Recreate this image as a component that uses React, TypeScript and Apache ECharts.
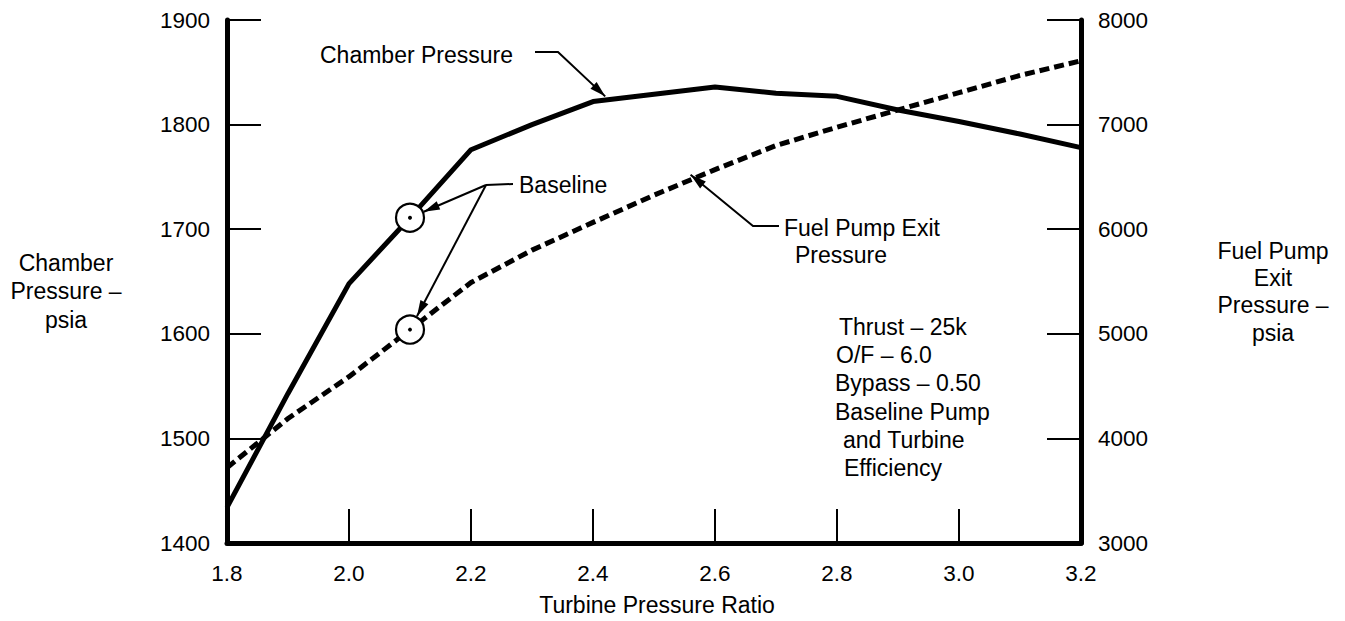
import React, { useEffect, useRef } from "react";
import * as echarts from "echarts";

// ---- data ----
const turbinePressureRatio = [1.8, 1.9, 2.0, 2.1, 2.2, 2.3, 2.4, 2.5, 2.6, 2.7, 2.8, 2.9, 3.0, 3.1, 3.2];
const chamberPressure = [1434, 1543, 1648, 1711, 1776, 1800, 1822, 1829, 1836, 1830, 1827, 1814, 1803, 1791, 1778];
const fuelPumpExitPressure = [3720, 4190, 4590, 5040, 5490, 5800, 6065, 6325, 6570, 6800, 6975, 7140, 7305, 7470, 7610];
const baselineRatio = 2.1;

const xRange = { min: 1.8, max: 3.2, interval: 0.2 };
const chamberRange = { min: 1400, max: 1900, interval: 100 };
const fuelRange = { min: 3000, max: 8000, interval: 1000 };

const leftAxisName = ["Chamber", "Pressure \u2013", "psia"];
const rightAxisName = ["Fuel Pump", "Exit", "Pressure \u2013", "psia"];
const conditionLines: [string, number][] = [
  ["Thrust \u2013 25k", 4],
  ["O/F \u2013 6.0", 1],
  ["Bypass \u2013 0.50", 0],
  ["Baseline Pump", 0],
  ["and Turbine", 8],
  ["Efficiency", 9],
];

const FONT = '"Liberation Sans", Arial, Helvetica, sans-serif';
const TXT = 23;

export default function App() {
  const ref = useRef<HTMLDivElement>(null);

  useEffect(() => {
    const chart = echarts.init(ref.current!, null, { renderer: "svg" });
    const chamberData = turbinePressureRatio.map((x, i) => [x, chamberPressure[i]]);
    const fuelData = turbinePressureRatio.map((x, i) => [x, fuelPumpExitPressure[i]]);
    const bi = turbinePressureRatio.indexOf(baselineRatio);
    const chamberBase = [baselineRatio, chamberPressure[bi]];
    const fuelBase = [baselineRatio, fuelPumpExitPressure[bi]];

    const axisLabel = {
      color: "#000",
      fontSize: 22.5,
      fontFamily: FONT,
      margin: 17,
      formatter: (v: number) => String(v),
    };
    const axisLine = { show: true, lineStyle: { color: "#000", width: 5 } };
    const axisTick = { show: true, inside: true, length: 34, lineStyle: { color: "#000", width: 2 } };

    chart.setOption({
      animation: false,
      backgroundColor: "#fff",
      grid: { left: 227, right: 264, top: 20, bottom: 78 },
      xAxis: {
        type: "value",
        min: xRange.min,
        max: xRange.max,
        interval: xRange.interval,
        axisLine,
        axisTick,
        splitLine: { show: false },
        axisLabel: { ...axisLabel, margin: 19, formatter: (v: number) => v.toFixed(1) },
      },
      yAxis: [
        {
          type: "value",
          position: "left",
          min: chamberRange.min,
          max: chamberRange.max,
          interval: chamberRange.interval,
          axisLine,
          axisTick,
          splitLine: { show: false },
          axisLabel,
        },
        {
          type: "value",
          position: "right",
          min: fuelRange.min,
          max: fuelRange.max,
          interval: fuelRange.interval,
          axisLine,
          axisTick,
          splitLine: { show: false },
          axisLabel,
        },
      ],
      series: [
        {
          name: "Chamber Pressure",
          type: "line",
          yAxisIndex: 0,
          data: chamberData,
          symbol: "none",
          lineStyle: { color: "#000", width: 5 },
          z: 3,
        },
        {
          name: "Fuel Pump Exit Pressure",
          type: "line",
          yAxisIndex: 1,
          data: fuelData,
          symbol: "none",
          lineStyle: { color: "#000", width: 5, type: [10, 5] },
          z: 3,
        },
        {
          type: "scatter",
          yAxisIndex: 0,
          data: [chamberBase],
          symbol: "circle",
          symbolSize: 28,
          itemStyle: { color: "#fff", borderColor: "#000", borderWidth: 2.2, opacity: 1 },
          z: 5,
        },
        {
          type: "scatter",
          yAxisIndex: 1,
          data: [fuelBase],
          symbol: "circle",
          symbolSize: 28,
          itemStyle: { color: "#fff", borderColor: "#000", borderWidth: 2.2, opacity: 1 },
          z: 5,
        },
        {
          type: "scatter",
          yAxisIndex: 0,
          data: [chamberBase],
          symbolSize: 4,
          itemStyle: { color: "#000", opacity: 1 },
          z: 6,
        },
        {
          type: "scatter",
          yAxisIndex: 1,
          data: [fuelBase],
          symbolSize: 4,
          itemStyle: { color: "#000", opacity: 1 },
          z: 6,
        },
      ],
    });

    const toPx = (seriesIndex: number, v: number[]) =>
      chart.convertToPixel({ seriesIndex }, v) as unknown as number[];

    const lineStyle = { stroke: "#000", lineWidth: 2, fill: null as any };
    const arrowHead = (from: number[], tip: number[], len = 16, half = 4.5) => {
      const dx = tip[0] - from[0];
      const dy = tip[1] - from[1];
      const d = Math.hypot(dx, dy) || 1;
      const ux = dx / d;
      const uy = dy / d;
      const bx = tip[0] - ux * len;
      const by = tip[1] - uy * len;
      return {
        type: "polygon",
        shape: { points: [tip, [bx - uy * half, by + ux * half], [bx + uy * half, by - ux * half]] },
        style: { fill: "#000" },
        z: 20,
      };
    };
    const text = (t: string, x: number, y: number, align = "left", size = TXT) => ({
      type: "text",
      x,
      y,
      style: {
        text: t,
        fill: "#000",
        font: `${size}px ${FONT}`,
        textAlign: align,
        align,
        textVerticalAlign: "middle",
        verticalAlign: "middle",
      },
      z: 20,
    });
    const poly = (pts: number[][]) => ({ type: "polyline", shape: { points: pts }, style: lineStyle, z: 20 });
    const edge = (center: number[], from: number[], r: number) => {
      const dx = from[0] - center[0];
      const dy = from[1] - center[1];
      const d = Math.hypot(dx, dy) || 1;
      return [center[0] + (dx / d) * r, center[1] + (dy / d) * r];
    };

    const graphics: any[] = [];

    // Chamber Pressure label + arrow
    const cpTip = toPx(0, [2.42, 1827]);
    const cpKnee = [558, 52];
    const cpTail = [535, 52];
    graphics.push(text("Chamber Pressure", 320, 55, "left"));
    graphics.push(poly([cpTail, cpKnee, cpTip]));
    graphics.push(arrowHead(cpKnee, cpTip));

    // Baseline label + two arrows
    const cbPx = toPx(2, chamberBase);
    const fbPx = toPx(3, fuelBase);
    const bJoin = [486, 185];
    graphics.push(text("Baseline", 519, 185, "left"));
    graphics.push(poly([bJoin, [513, 184]]));
    const t1 = edge(cbPx, bJoin, 15);
    const t2 = edge(fbPx, bJoin, 15);
    graphics.push(poly([bJoin, t1]));
    graphics.push(arrowHead(bJoin, t1));
    graphics.push(poly([bJoin, t2]));
    graphics.push(arrowHead(bJoin, t2));

    // Fuel Pump Exit Pressure label + arrow
    const fpTip = toPx(1, [2.56, 6520]);
    const fpKnee = [753, 226];
    const fpTail = [779, 226];
    graphics.push(poly([fpTail, fpKnee, fpTip]));
    graphics.push(arrowHead(fpKnee, fpTip));
    graphics.push(text("Fuel Pump Exit", 784, 228, "left"));
    graphics.push(text("Pressure", 841, 255, "center"));

    // Conditions block
    conditionLines.forEach(([t, dx], i) => {
      graphics.push(text(t, 835 + dx, 327 + i * 28.2, "left"));
    });

    // Axis names
    const leftYs = [263, 291, 320];
    leftAxisName.forEach((t, i) => graphics.push(text(t, 66, leftYs[i], "center")));
    const rightYs = [251, 278, 305, 333];
    rightAxisName.forEach((t, i) => graphics.push(text(t, 1273, rightYs[i], "center")));
    graphics.push(text("Turbine Pressure Ratio", 657, 605, "center"));

    chart.setOption({ graphic: graphics });

    return () => chart.dispose();
  }, []);

  return (
    <div
      ref={ref}
      style={{ position: "fixed", left: 0, top: 0, width: 1345, height: 621, background: "#fff" }}
    />
  );
}
